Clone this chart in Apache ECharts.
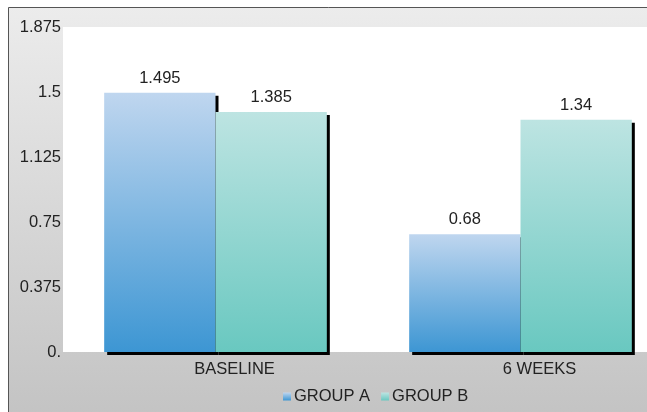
<!DOCTYPE html>
<html>
<head>
<meta charset="utf-8">
<script src="https://cdn.jsdelivr.net/npm/echarts@6/dist/echarts.min.js"></script>
<style>
  html, body { margin: 0; padding: 0; background: #fff; }
  #chart { width: 647px; height: 412px; }
</style>
</head>
<body>
<div id="chart"></div>
<script>
var categories = ['BASELINE', '6 WEEKS'];
var groupA = [1.495, 0.68];
var groupB = [1.385, 1.34];
var yTicks = { min: 0, max: 1.875, interval: 0.375 };

var dom = document.getElementById('chart');
var myChart = echarts.init(dom);

function grad(top, bottom) {
    return new echarts.graphic.LinearGradient(0, 0, 0, 1, [
        { offset: 0, color: top },
        { offset: 1, color: bottom }
    ]);
}

var labelStyle = {
    show: true,
    position: 'top',
    distance: 6,
    color: '#222',
    fontSize: 16.5,
    fontFamily: 'Liberation Sans, Arial, sans-serif'
};

var option = {
    backgroundColor: '#ffffff',
    animation: false,
    textStyle: { fontFamily: 'Liberation Sans, Arial, sans-serif' },
    graphic: [{
        type: 'rect',
        z: -10,
        silent: true,
        shape: { x: 8.5, y: 7.5, width: 660, height: 420 },
        style: {
            fill: new echarts.graphic.LinearGradient(0, 0, 0, 1, [
                { offset: 0, color: '#ececec' },
                { offset: 1, color: '#c2c2c2' }
            ]),
            stroke: '#555',
            lineWidth: 1
        }
    }],
    grid: {
        show: true,
        backgroundColor: '#ffffff',
        borderWidth: 0,
        outerBoundsMode: 'none',
        containLabel: false,
        left: 63,
        top: 27,
        height: 325,
        width: 610
    },
    legend: {
        left: 278,
        top: 383,
        itemWidth: 8,
        itemHeight: 8,
        itemGap: 11,
        icon: 'rect',
        textStyle: { color: '#222', fontSize: 16.5, padding: [0, 0, 0, -2] },
        data: ['GROUP A', 'GROUP B']
    },
    xAxis: {
        type: 'category',
        data: categories,
        axisLine: { show: false },
        axisTick: { show: false },
        axisLabel: {
            color: '#222',
            fontSize: 16.5,
            margin: 9,
            padding: [0, 0, 0, 38]
        }
    },
    yAxis: {
        type: 'value',
        min: yTicks.min,
        max: yTicks.max,
        interval: yTicks.interval,
        axisLine: { show: false },
        axisTick: { show: false },
        splitLine: { show: false },
        axisLabel: {
            color: '#222',
            fontSize: 16.5,
            margin: 2,
            formatter: function (v) { return v === 0 ? '0.' : String(v); }
        }
    },
    series: [
        {
            name: 'GROUP A',
            type: 'bar',
            data: groupA,
            barGap: '0%',
            barCategoryGap: '27%',
            label: labelStyle,
            itemStyle: {
                color: grad('#bfd6ef', '#3d96d3'),
                shadowColor: '#000',
                shadowBlur: 0,
                shadowOffsetX: 3,
                shadowOffsetY: 3
            }
        },
        {
            name: 'GROUP B',
            type: 'bar',
            data: groupB,
            barGap: '0%',
            barCategoryGap: '27%',
            label: labelStyle,
            itemStyle: {
                color: grad('#bde4e2', '#69c8c0'),
                shadowColor: '#000',
                shadowBlur: 0,
                shadowOffsetX: 3,
                shadowOffsetY: 3
            }
        }
    ]
};

if (option && typeof option === "object") {
    myChart.setOption(option, true);
}
</script>
</body>
</html>
